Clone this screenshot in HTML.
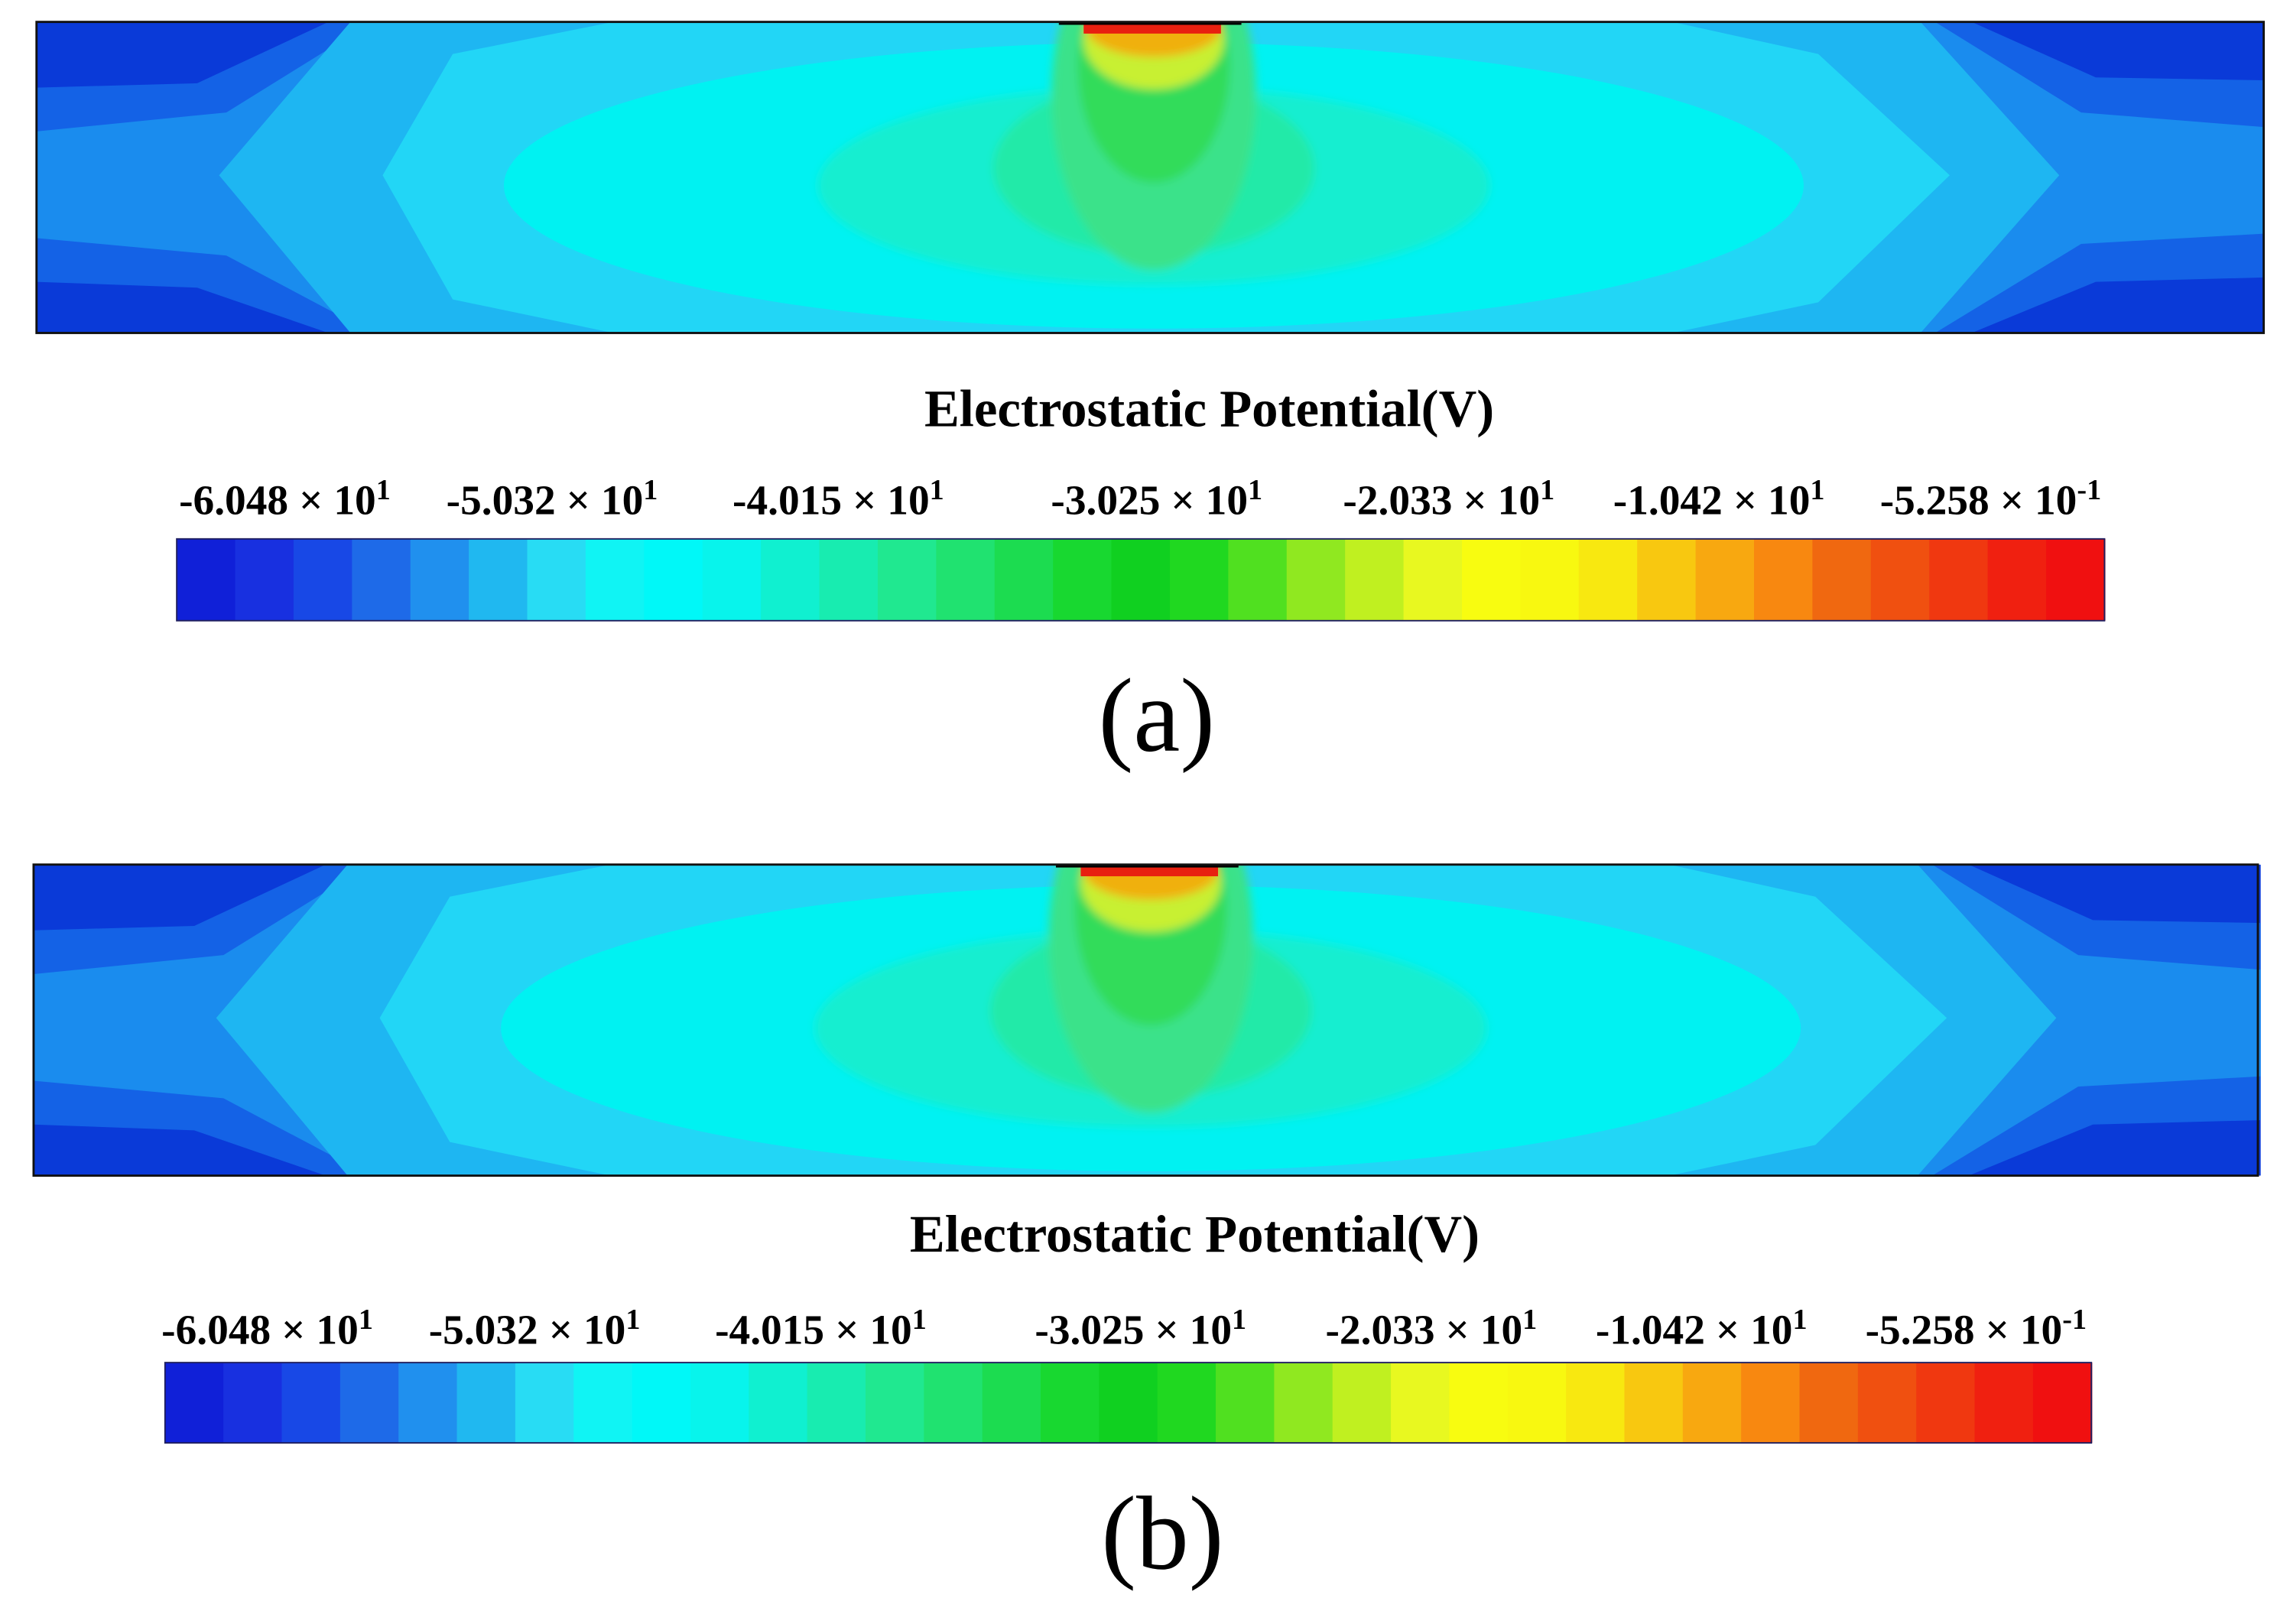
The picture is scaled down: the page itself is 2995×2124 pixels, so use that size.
<!DOCTYPE html>
<html><head><meta charset="utf-8"><style>
html,body{margin:0;padding:0;background:#fff;}
svg{display:block;}
text{font-family:"Liberation Serif",serif;}
</style></head><body>
<svg id="fig" width="2995" height="2124" viewBox="0 0 1568 1112" xmlns="http://www.w3.org/2000/svg">
<defs>
<filter id="soft"><feGaussianBlur stdDeviation="3"/></filter>
<g id="field">
  <rect x="0" y="0" width="1525" height="213" fill="#0a3ad8"/>
  <polygon fill="#1462e6" points="0,45 110,42 200,0 1325,0 1410,38 1525,40 1525,175 1410,178 1325,213 200,213 110,182 0,178"/>
  <polygon fill="#1a8cee" points="0,75 130,62 230,0 1300,0 1400,62 1525,72 1525,145 1400,152 1300,213 230,213 130,160 0,148"/>
  <polygon fill="#1eb6f2" points="125,105 215,0 1290,0 1385,105 1290,213 215,213"/>
  <polygon fill="#22d6f6" points="237,105 285,22 395,0 1120,0 1220,22 1310,105 1220,192 1120,213 395,213 285,190"/>
  <ellipse fill="#00f2f2" cx="765" cy="112" rx="445" ry="98"/>
  <g filter="url(#soft)">
  <ellipse fill="#14eed0" cx="765" cy="112" rx="230" ry="68"/>
  <ellipse fill="#22eaa8" cx="765" cy="100" rx="110" ry="60"/>
  <ellipse fill="#3ae28a" cx="765" cy="50" rx="70" ry="120"/>
  <ellipse fill="#30dc5a" cx="765" cy="30" rx="52" ry="80"/>
  <ellipse fill="#c8f030" cx="765" cy="12" rx="48" ry="34"/>
  <ellipse fill="#f0b010" cx="765" cy="4" rx="46" ry="20"/>
  </g>
  <rect fill="#e82010" x="717" y="0" width="94" height="8"/>
  <rect fill="#000" x="700" y="-1" width="125" height="3"/>
</g>
<clipPath id="clipPanel"><rect x="0" y="0" width="1525" height="213"/></clipPath>
</defs>

<g transform="translate(25,15)">
  <g clip-path="url(#clipPanel)"><use href="#field"/></g>
  <rect x="0" y="0" width="1525" height="213" fill="none" stroke="#111" stroke-width="1.5"/>
</g>
<text x="828" y="292" font-size="36" font-weight="bold" text-anchor="middle">Electrostatic Potential(V)</text>
<g id="cbA"></g>
<text x="792" y="514" font-size="72" text-anchor="middle">(a)</text>

<g transform="translate(23,592)">
  <g clip-path="url(#clipPanel)"><use href="#field"/></g>
  <rect x="0" y="0" width="1523" height="213" fill="none" stroke="#111" stroke-width="1.5"/>
</g>
<text x="818" y="857" font-size="36" font-weight="bold" text-anchor="middle">Electrostatic Potential(V)</text>
<g id="cbB"></g>
<text x="796" y="1074" font-size="72" text-anchor="middle">(b)</text>
</svg>
<script>
const tickMantissa = ["-6.048","-5.032","-4.015","-3.025","-2.033","-1.042","-5.258"];
const tickExponent = ["1","1","1","1","1","1","-1"];
const bandColors = ["#1020d8","#1830e0","#1848e6","#1e6ae8","#2090ee","#20b8f0","#28dcf4","#10f4f4","#00f8f8","#08f4ec","#10f0d0","#18ecb0","#20e890","#20e270","#1cdc50","#18d830","#10d020","#20d820","#50e020","#90e820","#c0f020","#e8f820","#f8fc10","#f8f810","#f8e810","#f8c810","#f8a810","#f88810","#f06810","#f05010","#f03810","#f02010","#f01010"];
const NS = "http://www.w3.org/2000/svg";
function drawColorbar(gid, x0, x1, y0, y1, labelXs, labelY){
  const g = document.getElementById(gid);
  const n = bandColors.length;
  const w = (x1-x0)/n;
  for(let i=0;i<n;i++){
    const r = document.createElementNS(NS,"rect");
    
    
    r.setAttribute("x", x0+i*w); r.setAttribute("y", y0);
    r.setAttribute("width", w+0.6); r.setAttribute("height", y1-y0);
    r.setAttribute("fill", bandColors[i]);
    g.appendChild(r);
  }
  const b = document.createElementNS(NS,"rect");
  
  
  b.setAttribute("x",x0);b.setAttribute("y",y0);b.setAttribute("width",x1-x0);b.setAttribute("height",y1-y0);
  b.setAttribute("fill","none");b.setAttribute("stroke","#202060");b.setAttribute("stroke-width","1");
  g.appendChild(b);
  for(let i=0;i<tickMantissa.length;i++){
    const t = document.createElementNS(NS,"text");
    
    
    t.setAttribute("x", labelXs[i]); t.setAttribute("y", labelY);
    t.setAttribute("text-anchor","middle"); t.setAttribute("font-size","29"); t.setAttribute("font-weight","bold");
    t.textContent = tickMantissa[i] + " \u00d7 10";
    const s = document.createElementNS(NS,"tspan");
    s.setAttribute("dy","-10"); s.setAttribute("font-size","20");
    s.textContent = tickExponent[i];
    t.appendChild(s);
    g.appendChild(t);
  }
}
drawColorbar("cbA",121,1441,369,425,[195,378,574,792,992,1177,1363],352);
drawColorbar("cbB",113,1432,933,988,[183,366,562,781,980,1165,1353],920);
</script>
</body></html>
